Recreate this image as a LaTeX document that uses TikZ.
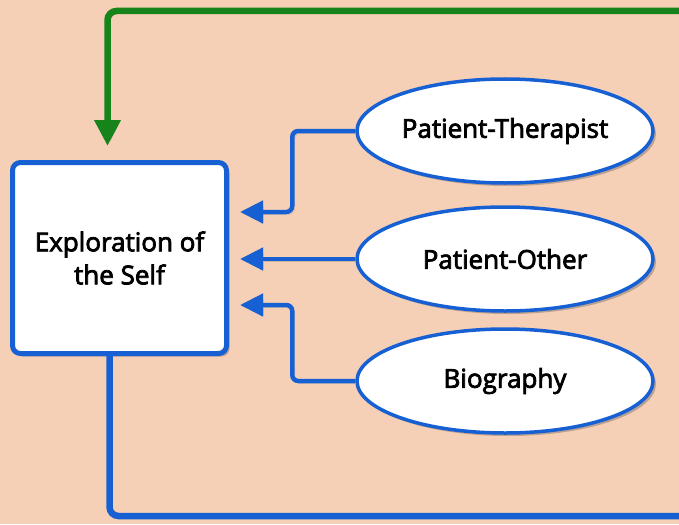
\documentclass[tikz,border=0pt]{standalone}
\usepackage{fontspec}
\setmainfont{Open Sans}[FakeBold=3]
\usetikzlibrary{arrows.meta,shapes.geometric,shadows}
\definecolor{peach}{RGB}{246,208,182}
\definecolor{linkblue}{RGB}{22,96,212}
\definecolor{fbgreen}{RGB}{22,132,26}
\tikzset{
  shade me/.style={drop shadow={shadow xshift=3pt,shadow yshift=-3pt,opacity=.35,fill=black!70}},
  line shade/.style={preaction={draw=black!55,opacity=.3,transform canvas={shift={(2.5pt,-2.5pt)}}}},
  selfbox/.style={draw=linkblue,line width=5pt,fill=white,rounded corners=8pt,minimum width=214pt,minimum height=191pt,align=center,shade me,font=\fontsize{26}{33}\selectfont},
  source/.style={ellipse,draw=linkblue,line width=3.5pt,fill=white,minimum width=296pt,minimum height=104pt,inner sep=0pt,shade me,font=\fontsize{26}{30}\selectfont},
  link/.style={draw=linkblue,line width=4.5pt,rounded corners=6pt,-{Triangle[length=23pt,width=22pt]},line shade},
  back/.style={draw=fbgreen,line width=6.5pt,rounded corners=9pt,-{Triangle[length=26pt,width=25pt]},line shade},
  outlink/.style={draw=linkblue,line width=6.5pt,rounded corners=9pt,line shade},
}
\begin{document}
\begin{tikzpicture}[x=1pt,y=-1pt]
\fill[peach] (0,0) rectangle (679,524);
\useasboundingbox (0,0) rectangle (679,524);
\node[selfbox] (self) at (119.5,258) {Exploration of\\the Self};
\node[source] (pt) at (505,131) {Patient-Therapist};
\node[source] (po) at (505,259) {Patient-Other};
\node[source] (bio) at (505,381) {Biography};
\coordinate (gin) at (679,11);
\coordinate (bout) at (679,516);
% sources into the self
\draw[link] (pt.west) -- ++(-63,0) |- ([shift={(11pt,46pt)}]self.east);
\draw[link] (po.west) -- ([xshift=11pt]self.east |- po.west);
\draw[link] (bio.west) -- ++(-63,0) |- ([shift={(11pt,-47pt)}]self.east);
% loop back
\draw[back] (gin) -| ([shift={(-12pt,14pt)}]self.north);
\draw[outlink] ([xshift=-10pt]self.south) |- (bout);
\end{tikzpicture}
\end{document}
